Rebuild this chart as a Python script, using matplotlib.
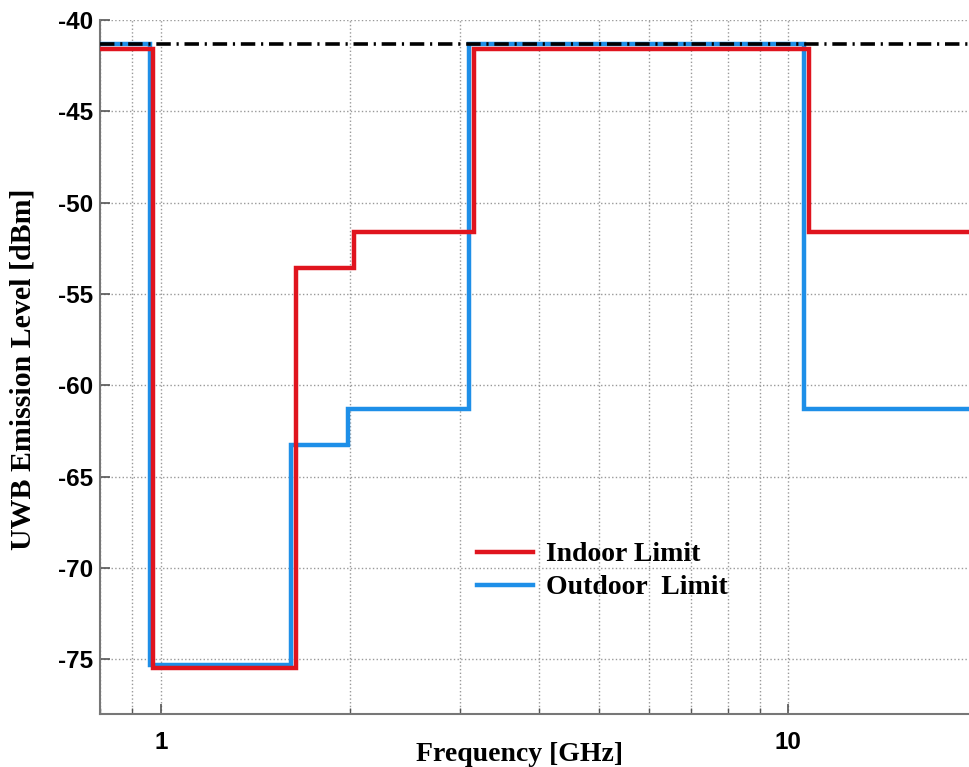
import numpy as np
import matplotlib
matplotlib.use("Agg")
import matplotlib.pyplot as plt
from matplotlib.ticker import FixedLocator, LogLocator, NullFormatter

# step masks: band edges (GHz) and level inside each band (dBm)
indoor_edges = [0.8, 0.97, 1.645, 2.03, 3.15, 10.8, 20.0]
indoor_levels = [-41.6, -75.5, -53.6, -51.6, -41.6, -51.6]

outdoor_edges = [0.8, 0.96, 1.61, 1.99, 3.1, 10.6, 20.0]
outdoor_levels = [-41.3, -75.3, -63.3, -61.3, -41.3, -61.3]

ref_level = -41.3
yticks = [-75, -70, -65, -60, -55, -50, -45, -40]
xticks = [1, 10]

fig = plt.figure(figsize=(9.69, 7.67), dpi=100)
ax = fig.add_axes([0.1032, 0.0691, 0.8968, 0.905])

ax.set_xscale("log")
ax.stairs(outdoor_levels, outdoor_edges, baseline=None, color="#1e8fe8", lw=3.2,
          label="Outdoor  Limit", zorder=3)
ax.stairs(indoor_levels, indoor_edges, baseline=None, color="#e0141e", lw=3.2,
          label="Indoor Limit", zorder=4)
ax.axhline(ref_level, color="black", lw=2.6, ls=(0, (4, 1.6, 0.6, 1.6)), zorder=5)

ax.set_xlim(0.8, 19.4)
ax.set_ylim(-78, -40)

ax.xaxis.set_major_locator(FixedLocator(xticks))
ax.set_xticklabels(["1", "10"])
ax.xaxis.set_minor_locator(LogLocator(base=10, subs=np.arange(2, 10)))
ax.xaxis.set_minor_formatter(NullFormatter())
ax.set_yticks(yticks)
ax.set_yticklabels([str(v) for v in yticks])

ax.grid(True, which="major", color="#999999", ls=":", lw=1.0)
ax.grid(True, which="minor", axis="x", color="#999999", ls=":", lw=1.0)

ax.tick_params(which="both", direction="in", color="#555555")
ax.tick_params(which="major", length=7, width=1.2, labelsize=17.5)
ax.tick_params(axis="y", which="major", pad=5)
ax.tick_params(axis="x", which="major", pad=12)
ax.tick_params(which="minor", length=4, width=1.0)
for lab in ax.get_xticklabels() + ax.get_yticklabels():
    lab.set_family("Liberation Sans")
    lab.set_fontweight("bold")

for s in ["top", "right"]:
    ax.spines[s].set_visible(False)
for s in ["left", "bottom"]:
    ax.spines[s].set_color("#777777")
    ax.spines[s].set_linewidth(1.5)

ax.set_xlabel("Frequency [GHz]", family="Liberation Serif", fontweight="bold",
              fontsize=20)
ax.set_ylabel("UWB Emission Level [dBm]", family="Liberation Serif", fontweight="bold",
              fontsize=21.5)
ax.xaxis.set_label_coords(0.483, -0.04)
ax.yaxis.set_label_coords(-0.0725, 0.496)

handles, labels = ax.get_legend_handles_labels()
leg = ax.legend(handles[::-1], labels[::-1], loc="upper left",
                bbox_to_anchor=(0.434, 0.248), frameon=False,
                prop={"family": "Liberation Serif", "weight": "bold", "size": 20},
                handlelength=2.0, handletextpad=0.47, labelspacing=0.27,
                borderaxespad=0, borderpad=0)

fig.savefig("out.png", dpi=100)
